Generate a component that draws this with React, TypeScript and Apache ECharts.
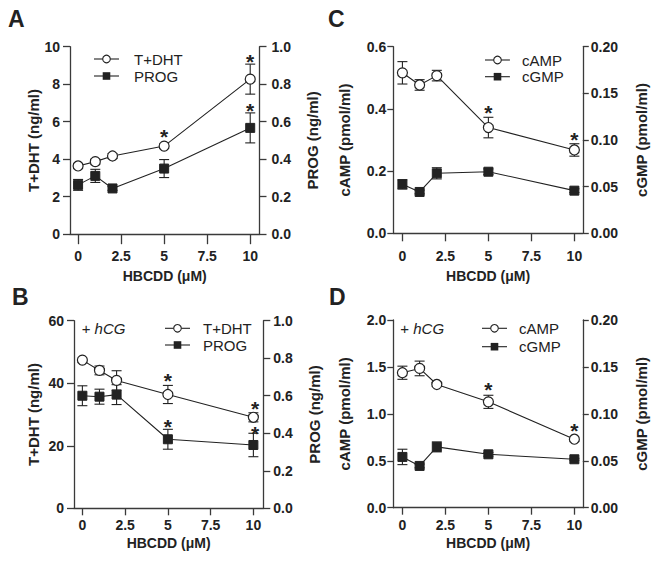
import React, { useEffect, useRef } from 'react';
import * as echarts from 'echarts';

const FONT = '"Liberation Sans", Arial, Helvetica, sans-serif';
const INK = '#222';
const AXIS = '#3a3a3a';

const doses = [0, 1, 2, 5, 10];
const xTicks = [0, 2.5, 5, 7.5, 10];

// Panel A (basal): T+DHT (ng/ml, left) and PROG (ng/ml, right)
const aTdht = [3.64, 3.87, 4.17, 4.7, 8.27];
const aTdhtErr = [0.12, 0.12, 0.12, 0.12, 0.8];
const aProg = [0.263, 0.311, 0.244, 0.35, 0.567];
const aProgErr = [0.029, 0.035, 0.01, 0.048, 0.08];
const aStars = [[5, 5.49], [10, 9.5], [10, 6.85]];

// Panel B (+hCG): T+DHT (left) and PROG (right)
const bTdht = [47.4, 44.1, 40.9, 36.4, 29.1];
const bTdhtErr = [0.6, 1.4, 3.1, 2.9, 1.45];
const bProg = [0.6, 0.595, 0.606, 0.368, 0.3375];
const bProgErr = [0.053, 0.04, 0.053, 0.053, 0.0625];
const bStars = [[5, 42.6], [5, 27.7], [10.1, 33.6], [10.1, 25.6]];

// Panel C (basal): cAMP (left) and cGMP (right), pmol/ml
const cCamp = [0.516, 0.477, 0.507, 0.34, 0.268];
const cCampErr = [0.036, 0.017, 0.017, 0.033, 0.02];
const cCgmp = [0.0525, 0.0443, 0.0643, 0.066, 0.0457];
const cCgmpErr = [0.005, 0.002, 0.006, 0.003, 0.002];
const cStars = [[5, 0.405], [10, 0.319]];

// Panel D (+hCG): cAMP (left) and cGMP (right)
const dCamp = [1.438, 1.484, 1.313, 1.128, 0.73];
const dCampErr = [0.07, 0.078, 0.02, 0.07, 0.02];
const dCgmp = [0.0541, 0.0445, 0.0648, 0.0569, 0.0516];
const dCgmpErr = [0.0082, 0.002, 0.0053, 0.002, 0.001];
const dStars = [[5, 1.317], [10, 0.879]];

type Panel = {
  letter: string;
  letterPos: [number, number];
  grid: { left: number; top: number; width: number; height: number };
  xMin: number;
  xMax: number;
  xTickLen: number;
  xLabelMargin: number;
  xNameGap: number;
  yTickLen: number;
  yLabelMarginL: number;
  yLabelMarginR: number;
  left: { name: string; max: number; interval: number; digits: number; gap: number };
  right: { name: string; max: number; interval: number; digits: number; gap: number };
  openName: string;
  openVals: number[];
  openErr: number[];
  filledName: string;
  filledVals: number[];
  filledErr: number[];
  stars: number[][];
  legend: { left: number; row1: number; row2: number; textGap: number };
  hcg?: [number, number];
};

const panels: Panel[] = [
  {
    letter: 'A', letterPos: [8, 7],
    grid: { left: 70, top: 46.7, width: 189.5, height: 187.5 },
    xMin: -0.47, xMax: 10.54, xTickLen: 10, xLabelMargin: 15, xNameGap: 35,
    yTickLen: 7, yLabelMarginL: 10, yLabelMarginR: 12,
    left: { name: 'T+DHT (ng/ml)', max: 10, interval: 2, digits: 0, gap: 27 },
    right: { name: 'PROG (ng/ml)', max: 1, interval: 0.2, digits: 1, gap: 45 },
    openName: 'T+DHT', openVals: aTdht, openErr: aTdhtErr,
    filledName: 'PROG', filledVals: aProg, filledErr: aProgErr,
    stars: aStars,
    legend: { left: 94, row1: 59, row2: 76, textGap: 15 },
  },
  {
    letter: 'C', letterPos: [328, 7],
    grid: { left: 393.3, top: 46.7, width: 189.5, height: 186.6 },
    xMin: -0.53, xMax: 10.49, xTickLen: 8, xLabelMargin: 16, xNameGap: 36,
    yTickLen: 6, yLabelMarginL: 7, yLabelMarginR: 8,
    left: { name: 'cAMP (pmol/ml)', max: 0.6, interval: 0.2, digits: 1, gap: 41 },
    right: { name: 'cGMP (pmol/ml)', max: 0.2, interval: 0.05, digits: 2, gap: 51 },
    openName: 'cAMP', openVals: cCamp, openErr: cCampErr,
    filledName: 'cGMP', filledVals: cCgmp, filledErr: cCgmpErr,
    stars: cStars,
    legend: { left: 485, row1: 60, row2: 76.7, textGap: 12 },
  },
  {
    letter: 'B', letterPos: [12, 285],
    grid: { left: 74, top: 320.7, width: 189.3, height: 187.6 },
    xMin: -0.49, xMax: 10.58, xTickLen: 7, xLabelMargin: 10, xNameGap: 28,
    yTickLen: 7, yLabelMarginL: 10, yLabelMarginR: 10,
    left: { name: 'T+DHT (ng/ml)', max: 60, interval: 20, digits: 0, gap: 33 },
    right: { name: 'PROG (ng/ml)', max: 1, interval: 0.2, digits: 1, gap: 44 },
    openName: 'T+DHT', openVals: bTdht, openErr: bTdhtErr,
    filledName: 'PROG', filledVals: bProg, filledErr: bProgErr,
    stars: bStars,
    legend: { left: 165, row1: 328.3, row2: 345, textGap: 13 },
    hcg: [81.7, 328.3],
  },
  {
    letter: 'D', letterPos: [329, 285],
    grid: { left: 393.3, top: 320, width: 189.5, height: 187.7 },
    xMin: -0.53, xMax: 10.49, xTickLen: 7, xLabelMargin: 10, xNameGap: 28,
    yTickLen: 6, yLabelMarginL: 7, yLabelMarginR: 8,
    left: { name: 'cAMP (pmol/ml)', max: 2, interval: 0.5, digits: 1, gap: 41 },
    right: { name: 'cGMP (pmol/ml)', max: 0.2, interval: 0.05, digits: 2, gap: 51 },
    openName: 'cAMP', openVals: dCamp, openErr: dCampErr,
    filledName: 'cGMP', filledVals: dCgmp, filledErr: dCgmpErr,
    stars: dStars,
    legend: { left: 482, row1: 328.3, row2: 346.7, textGap: 12 },
    hcg: [400.3, 328.3],
  },
];

const tickLabel = {
  fontFamily: FONT,
  fontSize: 14,
  fontWeight: 'bold' as const,
  color: INK,
};
const titleStyle = {
  fontFamily: FONT,
  fontSize: 15,
  fontWeight: 'bold' as const,
  color: INK,
};

function errorSeries(name: string, xi: number, yi: number, vals: number[], errs: number[]) {
  return {
    type: 'custom',
    name,
    xAxisIndex: xi,
    yAxisIndex: yi,
    z: 2,
    silent: true,
    data: doses.map((d, k) => [d, vals[k] - errs[k], vals[k] + errs[k]]),
    encode: { x: 0, y: [1, 2] },
    renderItem: (_p: any, api: any) => {
      const lo = api.coord([api.value(0), api.value(1)]);
      const hi = api.coord([api.value(0), api.value(2)]);
      const w = 5;
      const st = { stroke: INK, lineWidth: 1.1 };
      return {
        type: 'group',
        children: [
          { type: 'line', shape: { x1: hi[0], y1: hi[1], x2: lo[0], y2: lo[1] }, style: st },
          { type: 'line', shape: { x1: hi[0] - w, y1: hi[1], x2: hi[0] + w, y2: hi[1] }, style: st },
          { type: 'line', shape: { x1: lo[0] - w, y1: lo[1], x2: lo[0] + w, y2: lo[1] }, style: st },
        ],
      };
    },
  };
}

function starSeries(name: string, xi: number, yi: number, stars: number[][]) {
  return {
    type: 'custom',
    name,
    xAxisIndex: xi,
    yAxisIndex: yi,
    z: 4,
    silent: true,
    data: stars,
    encode: { x: 0, y: 1 },
    renderItem: (_p: any, api: any) => {
      const p = api.coord([api.value(0), api.value(1)]);
      return {
        type: 'text',
        x: p[0],
        y: p[1] + 5,
        style: {
          text: '*',
          fontFamily: FONT,
          fontSize: 21,
          fontWeight: 'bold',
          fill: INK,
          align: 'center',
          verticalAlign: 'middle',
        },
      };
    },
  };
}

function legendRow(left: number, y: number, gap: number, label: string, filled: boolean) {
  const cx = left + 12.5;
  const marker = filled
    ? { type: 'rect', shape: { x: cx - 3.8, y: y - 3.8, width: 7.6, height: 7.6 }, style: { fill: INK } }
    : { type: 'circle', shape: { cx, cy: y, r: 3.8 }, style: { fill: '#fff', stroke: INK, lineWidth: 1.1 } };
  return [
    { type: 'line', shape: { x1: left, y1: y, x2: left + 25, y2: y }, style: { stroke: INK, lineWidth: 1.1 } },
    marker,
    {
      type: 'text',
      x: left + 25 + gap,
      y,
      style: { text: label, fontFamily: FONT, fontSize: 15, fill: INK, verticalAlign: 'middle' },
    },
  ];
}

function buildOption() {
  const grid: any[] = [];
  const xAxis: any[] = [];
  const yAxis: any[] = [];
  const series: any[] = [];
  const graphic: any[] = [];

  panels.forEach((p, i) => {
    grid.push({ ...p.grid });
    xAxis.push({
      gridIndex: i,
      type: 'value',
      min: p.xMin,
      max: p.xMax,
      name: 'HBCDD (μM)',
      nameLocation: 'middle',
      nameGap: p.xNameGap,
      nameTextStyle: { ...titleStyle, fontSize: 14 },
      axisLine: { show: true, onZero: false, lineStyle: { color: AXIS, width: 1.3 } },
      axisTick: {
        show: true,
        length: p.xTickLen,
        customValues: xTicks,
        lineStyle: { color: AXIS, width: 1.3 },
      },
      axisLabel: {
        ...tickLabel,
        margin: p.xLabelMargin,
        customValues: xTicks,
        formatter: (v: number) => String(v),
      },
      splitLine: { show: false },
    });
    const mkY = (side: 'left' | 'right', cfg: Panel['left'], margin: number) => ({
      gridIndex: i,
      type: 'value',
      position: side,
      min: 0,
      max: cfg.max,
      interval: cfg.interval,
      name: cfg.name,
      nameLocation: 'middle',
      nameGap: cfg.gap,
      nameRotate: 90,
      nameTextStyle: titleStyle,
      axisLine: { show: true, onZero: false, lineStyle: { color: AXIS, width: 1.3 } },
      axisTick: { show: true, length: p.yTickLen, lineStyle: { color: AXIS, width: 1.3 } },
      axisLabel: {
        ...tickLabel,
        margin,
        formatter: (v: number) => v.toFixed(cfg.digits),
      },
      splitLine: { show: false },
    });
    yAxis.push(mkY('left', p.left, p.yLabelMarginL));
    yAxis.push(mkY('right', p.right, p.yLabelMarginR));

    const yl = 2 * i;
    const yr = 2 * i + 1;

    series.push(errorSeries('err-open-' + i, i, yl, p.openVals, p.openErr));
    series.push(errorSeries('err-filled-' + i, i, yr, p.filledVals, p.filledErr));
    series.push({
      type: 'line',
      name: p.openName,
      xAxisIndex: i,
      yAxisIndex: yl,
      data: doses.map((d, k) => [d, p.openVals[k]]),
      symbol: 'circle',
      symbolSize: 10,
      showAllSymbol: true,
      z: 3,
      lineStyle: { color: INK, width: 1.1 },
      itemStyle: { color: '#ffffff', borderColor: INK, borderWidth: 1.2 },
      emphasis: { disabled: true },
    });
    series.push({
      type: 'line',
      name: p.filledName,
      xAxisIndex: i,
      yAxisIndex: yr,
      data: doses.map((d, k) => [d, p.filledVals[k]]),
      symbol: 'rect',
      symbolSize: 9,
      showAllSymbol: true,
      z: 3,
      lineStyle: { color: INK, width: 1.1 },
      itemStyle: { color: INK, borderColor: INK, borderWidth: 1 },
      emphasis: { disabled: true },
    });
    series.push(starSeries('stars-' + i, i, yl, p.stars));

    graphic.push(...legendRow(p.legend.left, p.legend.row1, p.legend.textGap, p.openName, false));
    graphic.push(...legendRow(p.legend.left, p.legend.row2, p.legend.textGap, p.filledName, true));

    graphic.push({
      type: 'text',
      left: p.letterPos[0],
      top: p.letterPos[1],
      style: { text: p.letter, fontFamily: FONT, fontSize: 23, fontWeight: 'bold', fill: INK },
    });
    if (p.hcg) {
      graphic.push({
        type: 'text',
        x: p.hcg[0],
        y: p.hcg[1],
        style: {
          text: '{a|+ }{b|hCG}',
          verticalAlign: 'middle',
          rich: {
            a: { fontFamily: FONT, fontSize: 15, fill: INK },
            b: { fontFamily: FONT, fontSize: 15, fontStyle: 'italic', fill: INK },
          },
        },
      });
    }
  });

  return {
    animation: false,
    backgroundColor: '#ffffff',
    grid,
    xAxis,
    yAxis,
    graphic,
    series,
  };
}

export default function App() {
  const ref = useRef<HTMLDivElement>(null);
  useEffect(() => {
    if (!ref.current) return;
    const chart = echarts.init(ref.current, undefined, { renderer: 'svg' });
    chart.setOption(buildOption() as any);
    return () => chart.dispose();
  }, []);
  return (
    <div
      ref={ref}
      style={{ position: 'fixed', left: 0, top: 0, width: 654, height: 570, background: '#fff' }}
    />
  );
}
